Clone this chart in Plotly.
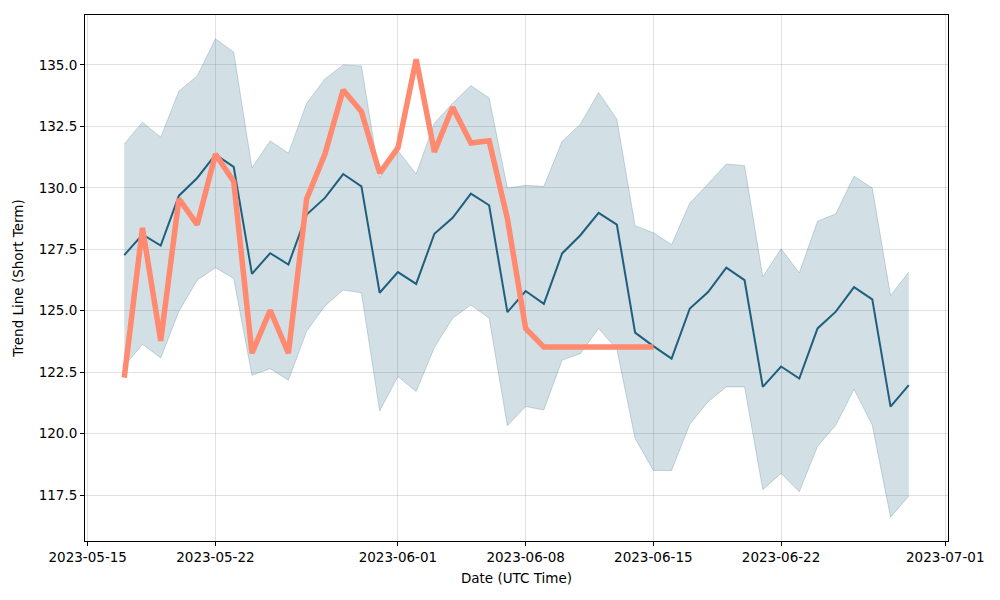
import pandas as pd
import plotly.graph_objects as go

start_date = "2023-05-17"
n_days = 44
dates = pd.date_range(start_date, periods=n_days, freq="D")

trend = [127.26, 128.10, 127.65, 129.68, 130.40, 131.35, 130.85, 126.50, 127.34, 126.88,
         128.91, 129.59, 130.56, 130.06, 125.73, 126.57, 126.09, 128.13, 128.78, 129.76,
         129.29, 124.94, 125.80, 125.28, 127.33, 128.07, 128.98, 128.50, 124.11, 123.56,
         123.05, 125.09, 125.76, 126.75, 126.24, 121.90, 122.73, 122.24, 124.28, 124.96,
         125.96, 125.46, 121.10, 121.97]

upper = [131.78, 132.67, 132.06, 133.94, 134.55, 136.06, 135.52, 130.81, 131.91, 131.41,
         133.44, 134.43, 135.00, 134.96, 130.40, 131.51, 130.56, 132.63, 133.44, 134.16,
         133.65, 129.99, 130.10, 130.06, 131.89, 132.59, 133.88, 132.79, 128.46, 128.17,
         127.69, 129.38, 130.16, 130.97, 130.90, 126.38, 127.52, 126.54, 128.64, 128.94,
         130.47, 129.99, 125.62, 126.57]

lower = [122.75, 123.63, 123.08, 124.98, 126.24, 126.75, 126.31, 122.37, 122.64, 122.17,
         124.17, 125.19, 125.84, 125.73, 120.92, 122.32, 121.71, 123.50, 124.69, 125.23,
         124.69, 120.32, 121.10, 120.96, 122.99, 123.25, 124.28, 123.43, 119.80, 118.50,
         118.50, 120.38, 121.30, 121.90, 121.90, 117.72, 118.38, 117.63, 119.48, 120.34,
         121.80, 120.34, 116.60, 117.45]

actual = [122.28, 128.37, 123.77, 129.55, 128.50, 131.37, 130.26, 123.27, 125.02, 123.27,
          129.56, 131.37, 133.98, 133.10, 130.60, 131.62, 135.23, 131.46, 133.28, 131.82,
          131.91, 128.75, 124.28, 123.52, 123.52, 123.52, 123.52, 123.52, 123.52, 123.52]

x_ticks = ["2023-05-15", "2023-05-22", "2023-06-01", "2023-06-08",
           "2023-06-15", "2023-06-22", "2023-07-01"]
y_ticks = [117.5, 120.0, 122.5, 125.0, 127.5, 130.0, 132.5, 135.0]

blue = "#1f5f7d"
band_fill = "rgba(31,95,125,0.2)"
band_edge = "rgba(31,95,125,0.22)"
orange = "#ff8a70"

fig = go.Figure()
fig.add_trace(go.Scatter(x=dates, y=upper, mode="lines",
                         line=dict(color=band_edge, width=1), showlegend=False,
                         hoverinfo="skip"))
fig.add_trace(go.Scatter(x=dates, y=lower, mode="lines", fill="tonexty",
                         fillcolor=band_fill,
                         line=dict(color=band_edge, width=1), showlegend=False,
                         hoverinfo="skip"))
fig.add_trace(go.Scatter(x=dates, y=trend, mode="lines",
                         line=dict(color=blue, width=2), showlegend=False))
fig.add_trace(go.Scatter(x=dates[:len(actual)], y=actual, mode="lines",
                         line=dict(color=orange, width=5.5), showlegend=False))

font = dict(family="DejaVu Sans", size=13.5, color="black")

axis_common = dict(
    showline=True, linecolor="black", linewidth=1, mirror=True,
    ticks="outside", ticklen=4, tickcolor="black", tickwidth=1,
    showgrid=True, gridcolor="rgba(176,176,176,0.38)", gridwidth=1,
    zeroline=False, automargin=False,
    tickfont=font,
)

fig.update_xaxes(
    **axis_common,
    range=["2023-05-14 20:24", "2023-07-01 03:36"],
    tickvals=x_ticks, ticktext=x_ticks,
    title=dict(text="Date (UTC Time)", font=font, standoff=9),
)
fig.update_yaxes(
    **axis_common,
    range=[115.63, 137.03],
    tickvals=y_ticks, ticktext=[f"{v:.1f}" for v in y_ticks],
    title=dict(text="Trend Line (Short Term)", font=font, standoff=11),
)

# page body has an 8px margin, so the figure is sized to fill the rest of the window
fig.update_layout(
    width=992, height=592,
    margin=dict(l=77, r=52, t=7, b=59),
    plot_bgcolor="white", paper_bgcolor="white",
    showlegend=False,
)

fig.write_html("out.html")
